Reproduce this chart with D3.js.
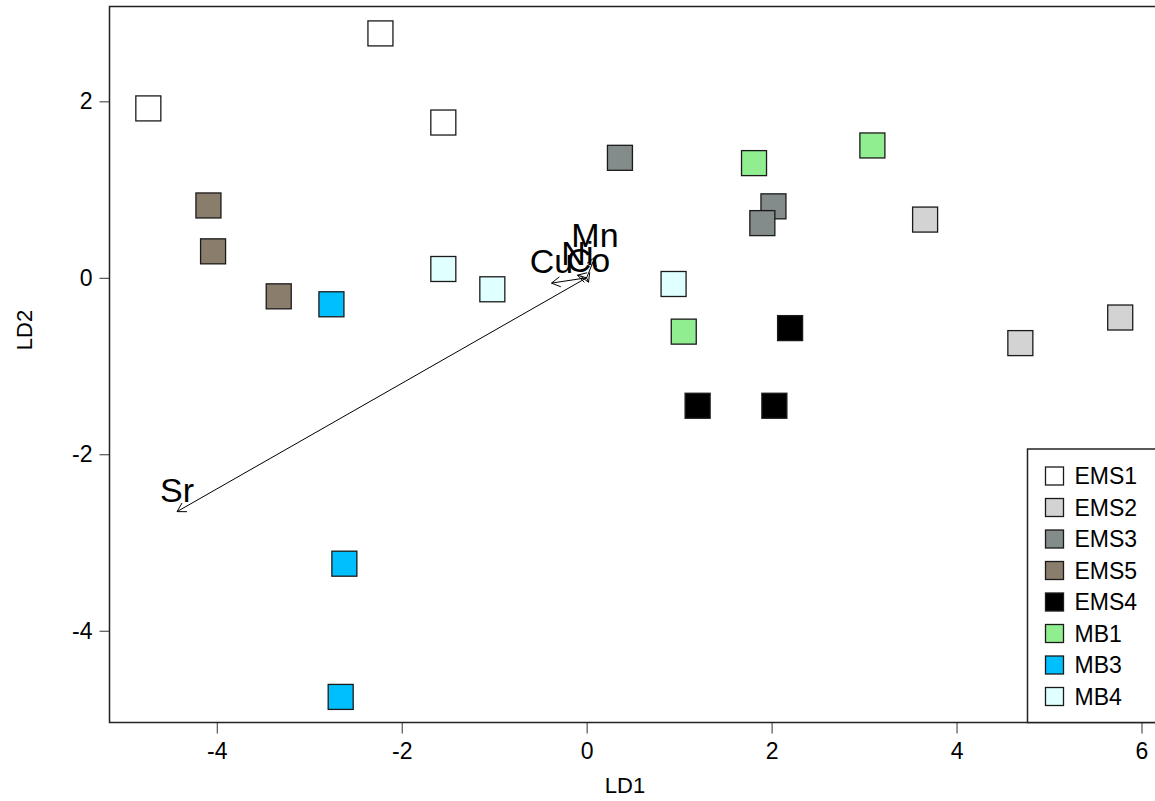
<!DOCTYPE html>
<html>
<head>
<meta charset="utf-8">
<script src="https://cdn.jsdelivr.net/npm/d3@7"></script>
<style>
  body { margin: 0; background: #fff; }
  text { font-family: "Liberation Sans", Arial, sans-serif; fill: #000; }
</style>
</head>
<body>
<script>
// groups, in legend order
const groups = ["EMS1", "EMS2", "EMS3", "EMS5", "EMS4", "MB1", "MB3", "MB4"];
const groupColours = ["#ffffff", "#d3d3d3", "#838b8b", "#8b7d6b", "#000000", "#90ee90", "#00bfff", "#e0ffff"];

// sample scores on LD1 / LD2
const sampleGroup = ["EMS1", "EMS1", "EMS1",
                     "EMS2", "EMS2", "EMS2",
                     "EMS3", "EMS3", "EMS3",
                     "EMS5", "EMS5", "EMS5",
                     "EMS4", "EMS4", "EMS4",
                     "MB1", "MB1", "MB1",
                     "MB3", "MB3", "MB3",
                     "MB4", "MB4", "MB4"];
const ld1 = [-4.74, -2.23, -1.55,
              3.66,  4.69,  5.77,
              0.36,  2.02,  1.90,
             -4.09, -4.04, -3.33,
              2.20,  1.20,  2.03,
              1.81,  3.09,  1.05,
             -2.76, -2.62, -2.66,
             -1.55, -1.02,  0.94];
const ld2 = [ 1.92,  2.77,  1.76,
              0.66, -0.74, -0.45,
              1.36,  0.81,  0.62,
              0.82,  0.30, -0.21,
             -0.57, -1.45, -1.45,
              1.30,  1.50, -0.61,
             -0.30, -3.24, -4.75,
              0.10, -0.13, -0.07];

// variable loadings drawn as arrows
const vars = ["Sr", "Cu", "Ni", "Co", "Mn"];
const varLd1 = [-4.43, -0.38, -0.10, 0.02, 0.09];
const varLd2 = [-2.65, -0.06, 0.03, -0.05, 0.235];

const xTicks = [-4, -2, 0, 2, 4, 6];
const yTicks = [-4, -2, 0, 2];

const width = 1155, height = 801;
const plot = { left: 109.5, top: 6.5, bottom: 722.5, right: 1172 };

const svg = d3.select("body").append("svg")
  .attr("width", width)
  .attr("height", height);

const x = d3.scaleLinear().domain([-5.16, 6.33]).range([plot.left, plot.right]);
const y = d3.scaleLinear().domain([-5.04, 3.075]).range([plot.bottom, plot.top]);

const colour = d3.scaleOrdinal().domain(groups).range(groupColours);

// axes
const xAxis = d3.axisBottom(x).tickValues(xTicks).tickSize(11).tickPadding(9).tickFormat(d3.format("d"));
const yAxis = d3.axisLeft(y).tickValues(yTicks).tickSize(10).tickPadding(7).tickFormat(d3.format("d"));

const gx = svg.append("g")
  .attr("transform", `translate(0,${plot.bottom})`)
  .call(xAxis);
gx.select(".domain").remove();
gx.selectAll("line").attr("stroke", "#333");
gx.selectAll("text")
  .style("font-size", "23px")
  .text(d => d < 0 ? "-" + Math.abs(d) : d);

const gy = svg.append("g")
  .attr("transform", `translate(${plot.left},0)`)
  .call(yAxis);
gy.select(".domain").remove();
gy.selectAll("line").attr("stroke", "#333");
gy.selectAll("text")
  .style("font-size", "23px")
  .text(d => d < 0 ? "-" + Math.abs(d) : d);

// plot frame
svg.append("rect")
  .attr("x", plot.left)
  .attr("y", plot.top)
  .attr("width", plot.right - plot.left)
  .attr("height", plot.bottom - plot.top)
  .attr("fill", "none")
  .attr("stroke", "#222")
  .attr("stroke-width", 1.5);

// axis titles
svg.append("text")
  .attr("x", 625)
  .attr("y", 793)
  .attr("text-anchor", "middle")
  .style("font-size", "22px")
  .text("LD1");

svg.append("text")
  .attr("transform", "translate(32,330) rotate(-90)")
  .attr("text-anchor", "middle")
  .style("font-size", "22px")
  .text("LD2");

// samples
const samples = sampleGroup.map((g, i) => ({ group: g, ld1: ld1[i], ld2: ld2[i] }));
const sq = 25;

svg.selectAll("rect.pt")
  .data(samples)
  .enter()
  .append("rect")
  .attr("class", "pt")
  .attr("x", d => x(d.ld1) - sq / 2)
  .attr("y", d => y(d.ld2) - sq / 2)
  .attr("width", sq)
  .attr("height", sq)
  .attr("fill", d => colour(d.group))
  .attr("stroke", "#1a1a1a")
  .attr("stroke-width", 1.3);

// loading arrows
const loadings = vars.map((v, i) => ({ name: v, ld1: varLd1[i], ld2: varLd2[i] }));
const headLen = 10, headAng = Math.PI / 6;

const arrows = svg.selectAll("g.arrow")
  .data(loadings)
  .enter()
  .append("g")
  .attr("class", "arrow");

arrows.append("path")
  .attr("fill", "none")
  .attr("stroke", "#000")
  .attr("stroke-width", 1)
  .attr("d", d => {
    const x0 = x(0), y0 = y(0), x1 = x(d.ld1), y1 = y(d.ld2);
    const a = Math.atan2(y1 - y0, x1 - x0);
    const p = d3.path();
    p.moveTo(x0, y0);
    p.lineTo(x1, y1);
    p.moveTo(x1 - headLen * Math.cos(a - headAng), y1 - headLen * Math.sin(a - headAng));
    p.lineTo(x1, y1);
    p.lineTo(x1 - headLen * Math.cos(a + headAng), y1 - headLen * Math.sin(a + headAng));
    return p.toString();
  });

arrows.append("text")
  .attr("x", d => x(d.ld1))
  .attr("y", d => y(d.ld2) - 10)
  .attr("text-anchor", "middle")
  .style("font-size", "34px")
  .text(d => d.name);

// legend
const legend = svg.append("g").attr("transform", "translate(1027.5,449)");
legend.append("rect")
  .attr("width", 160)
  .attr("height", plot.bottom - 449)
  .attr("fill", "#fff")
  .attr("stroke", "#222")
  .attr("stroke-width", 1.5);

const items = legend.selectAll("g.item")
  .data(groups)
  .enter()
  .append("g")
  .attr("class", "item")
  .attr("transform", (d, i) => `translate(0,${27 + i * 31.5})`);

items.append("rect")
  .attr("x", 18)
  .attr("y", -9)
  .attr("width", 18)
  .attr("height", 18)
  .attr("fill", d => colour(d))
  .attr("stroke", "#1a1a1a")
  .attr("stroke-width", 1.3);

items.append("text")
  .attr("x", 47)
  .attr("y", 8)
  .style("font-size", "23px")
  .text(d => d);
</script>
</body>
</html>
